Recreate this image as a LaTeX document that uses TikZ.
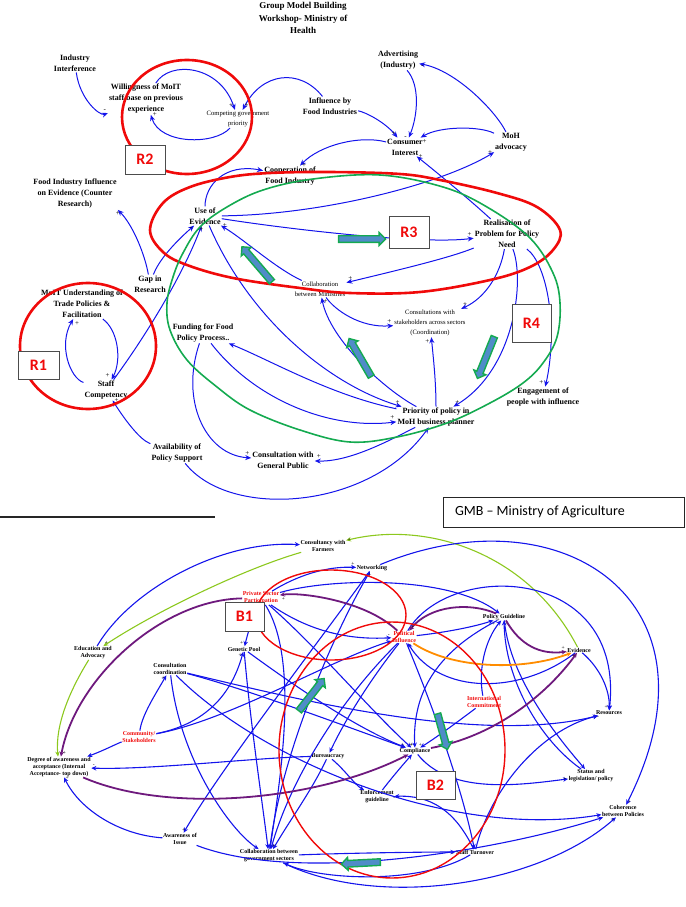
\documentclass[tikz,border=0pt]{standalone}
\usepackage{fontspec}
\setmainfont{Liberation Serif}
\newfontfamily\calfont{Carlito}
\usetikzlibrary{arrows.meta,shapes.arrows}
\definecolor{linkblue}{RGB}{20,20,235}
\definecolor{loopred}{RGB}{240,10,10}
\definecolor{loopgreen}{RGB}{20,170,80}
\definecolor{fatblue}{RGB}{80,140,200}
\definecolor{gmbpurple}{RGB}{110,25,125}
\definecolor{gmblime}{RGB}{140,200,30}
\definecolor{gmborange}{RGB}{255,140,0}
\begin{document}
\begin{tikzpicture}[x=1pt, y=-1pt, var/.style={align=center, inner sep=1pt, font=\bfseries\fontsize{8}{11}\selectfont}, svar/.style={align=center, inner sep=1pt, font=\fontsize{6.6}{10}\selectfont}, gvar/.style={align=center, inner sep=0.5pt, font=\bfseries\fontsize{6}{7}\selectfont, text=#1}, gvar/.default=black, loopbox/.style={draw=black!70, fill=white, line width=0.8pt, minimum width=40pt, minimum height=#1, inner sep=0pt, font=\calfont\bfseries\fontsize{16}{16}\selectfont, text=loopred}, loopbox/.default=30pt, link/.style={-{Stealth[length=6pt,width=5pt]}, draw=linkblue, line width=1pt}, glink/.style={-{Stealth[length=5pt,width=4.5pt]}, draw=#1, line width=1.1pt}, glink/.default=linkblue, sign/.style={pos=1, inner sep=1.5pt, font=\fontsize{7}{7}\selectfont, #1}, sign/.default=above, gsign/.style={pos=1, inner sep=1pt, font=\fontsize{5.5}{5.5}\selectfont, #1}, gsign/.default=above, redloop/.style={draw=loopred, line width=#1}, redloop/.default=2.6pt, greenloop/.style={draw=loopgreen, line width=1.6pt}, fat/.style={single arrow, draw=loopgreen, fill=fatblue, line width=1.4pt, inner sep=2.6pt, single arrow head extend=3.2pt, minimum height=#1}]

\useasboundingbox (0,0) rectangle (685,907);

\node [var, font=\bfseries\fontsize{9}{12.5}\selectfont] (title) at (303,18) {Group Model Building\\Workshop- Ministry of\\Health};
\node [var] (indint) at (75,63) {Industry\\Interference};
\node [var] (will) at (146,99) {Willingness of MoIT\\staff base on previous\\experience};
\node [svar] (comp) at (238,119) {Competing government\\priority};
\node [var] (inffood) at (330,106) {Influence by\\Food Industries};
\node [var] (advert) at (398,60) {Advertising\\(Industry)};
\node [var] (consint) at (405,147) {Consumer\\Interest};
\node [var] (mohadv) at (511,142) {MoH\\advocacy};
\node [var] (coop) at (290,176) {Cooperation of\\Food Industry};
\node [var] (fiinf) at (75,194) {Food Industry Influence\\on Evidence (Counter\\Research)};
\node [var] (useev) at (205,216) {Use of\\Evidence};
\node [var] (real) at (507,234) {Realisation of\\Problem for Policy\\Need};
\node [var] (gap) at (150,284) {Gap in\\Research};
\node [svar] (collab) at (320,289) {Collaboration\\between Ministries};
\node [var] (moit) at (82,304) {MoIT Understanding of\\Trade Policies \&\\Facilitation};
\node [svar] (consstake) at (430,323) {Consultations with\\stakeholders across sectors\\(Coordination)};
\node [var] (fund) at (203,333) {Funding for Food\\Policy Process.{}.};
\node [var] (staff) at (106,390) {Staff\\Competency};
\node [var] (engage) at (543,397) {Engagement of\\people with influence};
\node [var] (prio) at (436,417) {Priority of policy in\\MoH business planner};
\node [var] (avail) at (177,453) {Availability of\\Policy Support};
\node [var] (consgp) at (283,460) {Consultation with\\General Public};

\draw[link] (indint) .. controls (80,100) and (100,116) .. (will) node[sign={above left}] {-};
\draw[link] (will) .. controls (170,60) and (220,65) .. (comp) node[sign={above left}] {+};
\draw[link] (comp) .. controls (215,145) and (160,145) .. (will) node[sign=right] {+};
\draw[link] (inffood) .. controls (300,68) and (262,72) .. (comp) node[sign={above right}] {+};
\draw[link] (inffood) .. controls (365,112) and (385,122) .. (consint) node[sign={above left}] {+};
\draw[link] (advert) .. controls (420,85) and (418,115) .. (consint) node[sign=left] {-};
\draw[link] (mohadv) .. controls (495,110) and (455,70) .. (advert) node[sign={below right}] {-};
\draw[link] (mohadv) .. controls (480,126) and (440,126) .. (consint) node[sign={below right}] {+};
\draw[link] (consint) .. controls (360,135) and (320,145) .. (coop) node[sign=right] {+};
\draw[link] (useev) .. controls (205,185) and (225,163) .. (coop) node[sign={below left}] {+};
\draw[link] (useev) .. controls (320,215) and (440,185) .. (mohadv) node[sign=left] {+};
\draw[link] (real) .. controls (470,200) and (440,175) .. (consint) node[sign=right] {+};
\draw[link] (useev) .. controls (280,228) and (420,245) .. (real) node[sign={above left}] {+};
\draw[link] (real) .. controls (450,258) and (390,272) .. (collab) node[sign={above right}] {+};
\draw[link] (real) .. controls (500,275) and (485,298) .. (consstake) node[sign={above right}] {+};
\draw[link] (real) .. controls (525,280) and (515,370) .. (prio) node[sign={above right}] {+};
\draw[link] (real) .. controls (548,265) and (558,330) .. (engage) node[sign={above left}] {+};
\draw[link] (collab) .. controls (275,268) and (245,240) .. (useev) node[sign=right] {+};
\draw[link] (collab) .. controls (335,310) and (360,328) .. (consstake) node[sign={above left}] {+};
\draw[link] (prio) .. controls (385,390) and (330,340) .. (collab) node[sign={below right}] {+};
\draw[link] (prio) .. controls (436,380) and (433,355) .. (consstake) node[sign={below left}] {+};
\draw[link] (useev) .. controls (250,320) and (330,385) .. (prio) node[sign={above left}] {+};
\draw[link] (fund) .. controls (255,400) and (330,430) .. (prio) node[sign={above left}] {+};
\draw[link] (prio) .. controls (330,395) and (270,360) .. (fund);
\draw[link] (fund) .. controls (180,400) and (205,455) .. (consgp) node[sign={above left}] {+};
\draw[link] (prio) .. controls (390,440) and (350,462) .. (consgp) node[sign={above right}] {+};
\draw[link] (avail) .. controls (230,520) and (370,510) .. (prio);
\draw[link] (gap) .. controls (158,262) and (172,245) .. (useev) node[sign={below left}] {-};
\draw[link] (gap) .. controls (145,255) and (133,225) .. (fiinf.south east) node[sign=below] {+};
\draw[link] (staff) .. controls (150,330) and (185,270) .. (useev) node[sign={below}] {+};
\draw[link] (moit) .. controls (118,330) and (122,360) .. (staff) node[sign={above left}] {+};
\draw[link] (staff) .. controls (70,378) and (58,345) .. (moit) node[sign={below right}] {+};
\draw[link] (avail) .. controls (140,440) and (125,420) .. (staff) node[sign=right] {+};

\draw[redloop] (187,117) ellipse [x radius=65, y radius=57];
\draw[redloop] (88,346) ellipse [x radius=68, y radius=63];
\draw[redloop] plot[smooth cycle, tension=0.6] coordinates {(150,230) (163,203) (190,187) (230,177) (270,173) (330,172) (400,174) (440,180) (497,193) (537,207) (560,230) (553,250) (530,267) (490,280) (420,292) (350,293) (300,288) (233,278) (187,265) (163,252)};
\draw[greenloop] plot[smooth cycle, tension=0.6] coordinates {(167,303) (173,277) (183,253) (200,227) (227,207) (263,190) (313,179) (380,175) (443,187) (487,207) (530,238) (553,273) (560,303) (557,337) (543,363) (523,383) (490,403) (447,423) (397,437) (350,442) (300,430) (250,410) (217,387) (187,360) (170,330)};

\node [fat=47pt] (fa1) at (360.5,239) {};
\node [fat=46pt, rotate=130.6] (fa2) at (258,265.5) {};
\node [fat=44pt, rotate=120.1] (fa3) at (361,359) {};
\node [fat=45pt, rotate=-112] (fa4) at (486.5,356) {};

\node [loopbox=29pt] (R2) at (145,159.5) {R2};
\node [loopbox=32pt] (R3) at (409,232) {R3};
\node [loopbox=38pt, minimum width=39pt] (R4) at (531.5,323) {R4};
\node [loopbox=28pt, minimum width=41pt] (R1) at (38.5,365) {R1};

\coordinate (sepl) at (0,517);
\coordinate (sepr) at (215,517);
\draw[line width=1.6pt, black!85] (sepl) -- (sepr);
\node [draw=black!85, line width=0.8pt, minimum height=30pt, text width=217pt, inner xsep=12pt, align=flush left, font=\calfont\fontsize{14}{15}\selectfont] (gmbtitle) at (563.5,512) {GMB – Ministry of Agriculture};

\node [gvar] (cfarm) at (323,546) {Consultancy with\\Farmers};
\node [gvar] (netw) at (372,568) {Networking};
\node [gvar=loopred] (psec) at (261,598) {Private Sector\\Participation};
\node [gvar=loopred] (polinf) at (404,637) {Political\\Influence};
\node [gvar] (polguide) at (504,617) {Policy Guideline};
\node [gvar] (evid) at (579,650) {Evidence};
\node [gvar] (edadv) at (93,653) {Education and\\Advocacy};
\node [gvar] (genpool) at (244,649) {Genetic Pool};
\node [gvar] (conscoord) at (170,669) {Consultation\\coordination};
\node [gvar=loopred] (intcom) at (484,702) {International\\Commitment};
\node [gvar] (resources) at (609,713) {Resources};
\node [gvar=loopred] (commst) at (139,737) {Community/\\Stakeholders};
\node [gvar] (degree) at (59,767) {Degree of awareness and\\acceptance (Internal\\Acceptance- top down)};
\node [gvar] (bureau) at (328,756) {Bureaucracy};
\node [gvar] (compl) at (415,751) {Compliance};
\node [gvar] (status) at (591,776) {Status and\\legislation/ policy};
\node [gvar] (enforce) at (377,797) {Enforcement\\guideline};
\node [gvar] (coherence) at (623,811) {Coherence\\between Policies};
\node [gvar] (awaren) at (180,839) {Awareness of\\Issue};
\node [gvar] (collabgov) at (269,856) {Collaboration between\\government sectors};
\node [gvar] (turnover) at (475,852) {Staff Turnover};

\draw[glink=gmblime] (evid) .. controls (530,555) and (430,520) .. (cfarm) node[gsign=right] {+};
\draw[glink=gmblime] (cfarm) .. controls (240,570) and (150,615) .. (edadv) node[gsign={above right}] {+};
\draw[glink=gmblime] (edadv) .. controls (70,690) and (55,725) .. (degree);
\draw[glink] (edadv) .. controls (130,590) and (220,540) .. (cfarm);
\draw[glink] (netw) .. controls (560,490) and (730,600) .. (coherence) node[gsign={above right}] {+};
\draw[glink] (polinf) .. controls (450,560) and (625,565) .. (resources) node[gsign={above left}] {+};
\draw[glink] (evid) .. controls (600,668) and (610,690) .. (resources);
\draw[glink] (evid) .. controls (520,695) and (440,695) .. (polinf) node[gsign={below right}] {-};
\draw[glink] (polinf) .. controls (440,633) and (470,628) .. (polguide) node[gsign=below] {+};
\draw[glink] (psec) .. controls (310,632) and (350,640) .. (polinf) node[gsign={above left}] {-};
\draw[glink] (psec) .. controls (330,578) and (450,575) .. (polguide);
\draw[glink] (psec) .. controls (290,580) and (320,566) .. (netw) node[gsign={above left}] {+};
\draw[glink] (netw) .. controls (320,640) and (220,770) .. (awaren) node[gsign=above] {+};
\draw[glink] (collabgov) .. controls (280,760) and (330,640) .. (netw) node[gsign=below] {+};
\draw[glink] (commst) .. controls (230,720) and (330,660) .. (polinf);
\draw[glink] (awaren) .. controls (120,835) and (80,810) .. (degree) node[gsign=right] {+};
\draw[glink] (bureau) .. controls (250,758) and (150,770) .. (degree) node[gsign={above right}] {-};
\draw[glink] (commst) .. controls (118,743) and (105,750) .. (degree);
\draw[glink] (commst) .. controls (142,715) and (155,695) .. (conscoord) node[gsign={below left}] {+};
\draw[glink] (commst) .. controls (200,725) and (230,700) .. (genpool) node[gsign={below left}] {+};
\draw[glink] (psec) .. controls (252,620) and (248,632) .. (genpool) node[gsign={above left}] {+};
\draw[glink] (genpool) .. controls (300,690) and (360,730) .. (compl) node[gsign={above left}] {+};
\draw[glink] (conscoord) .. controls (250,690) and (350,728) .. (compl);
\draw[glink] (conscoord) .. controls (300,700) and (480,745) .. (resources) node[gsign=left] {+};
\draw[glink] (turnover) .. controls (490,790) and (540,730) .. (resources) node[gsign=below] {-};
\draw[glink] (polinf) .. controls (430,700) and (460,780) .. (turnover);
\draw[glink] (turnover) .. controls (455,810) and (430,795) .. (enforce) node[gsign=below] {-};
\draw[glink] (enforce) .. controls (390,780) and (400,768) .. (compl);
\draw[glink] (bureau) .. controls (345,770) and (355,785) .. (enforce);
\draw[glink] (bureau) .. controls (312,790) and (290,820) .. (collabgov);
\draw[glink] (polinf) .. controls (370,680) and (345,720) .. (bureau);
\draw[glink] (intcom) .. controls (460,720) and (440,735) .. (compl) node[gsign=above] {+};
\draw[glink] (intcom) .. controls (478,670) and (485,640) .. (polguide) node[gsign=left] {+};
\draw[glink] (polguide) .. controls (440,650) and (412,690) .. (compl) node[gsign={above left}] {+};
\draw[glink] (polguide) .. controls (510,680) and (560,740) .. (status);
\draw[glink] (status) .. controls (540,740) and (505,680) .. (polguide) node[gsign={below right}] {+};
\draw[glink] (compl) .. controls (450,795) and (520,785) .. (status) node[gsign=left] {+};
\draw[glink] (collabgov) .. controls (350,853) and (420,852) .. (turnover) node[gsign={below left}] {-};
\draw[glink] (turnover) .. controls (420,885) and (320,880) .. (collabgov);
\draw[glink] (collabgov) .. controls (380,910) and (540,885) .. (coherence) node[gsign={below left}] {+};
\draw[glink] (awaren) .. controls (300,885) and (500,850) .. (coherence);
\draw[glink] (conscoord) .. controls (260,760) and (450,840) .. (coherence);
\draw[glink] (conscoord) .. controls (180,760) and (230,830) .. (collabgov);
\draw[glink] (psec) .. controls (300,660) and (280,780) .. (collabgov);
\draw[glink] (psec) .. controls (320,650) and (370,710) .. (compl) node[gsign=above] {+};
\draw[glink] (genpool) .. controls (250,720) and (262,800) .. (collabgov);
\draw[glink] (polinf) .. controls (340,700) and (290,780) .. (collabgov) node[gsign={above right}] {+};
\draw[glink=gmbpurple, line width=1.8pt] (polinf) .. controls (365,600) and (300,592) .. (psec) node[gsign={below right}] {+};
\draw[glink=gmbpurple, line width=1.8pt] (psec) .. controls (160,600) and (75,680) .. (degree) node[gsign={above right}] {+};
\draw[glink=gmbpurple, line width=1.8pt] (polguide) .. controls (470,602) and (430,605) .. (polinf) node[gsign={above right}] {+};
\draw[glink=gmbpurple, line width=1.8pt] (polguide) .. controls (520,645) and (540,655) .. (evid) node[gsign={above left}] {+};
\draw[glink=gmbpurple, line width=1.8pt] (degree) .. controls (170,815) and (320,800) .. (compl);
\draw[glink=gmbpurple, line width=1.8pt] (compl) .. controls (500,735) and (550,690) .. (evid) node[gsign={below left}] {+};
\draw[glink=gmborange, line width=1.8pt] (polinf) .. controls (450,668) and (520,672) .. (evid);

\draw[redloop=1.4pt] (331,615) ellipse [x radius=75, y radius=45];
\draw[redloop=1.4pt] (392,750) ellipse [x radius=113, y radius=128];

\node [fat=41pt, rotate=52] (fa5) at (310.5,696) {};
\node [fat=37pt, rotate=-74.5] (fa6) at (442,730) {};
\node [fat=39pt, rotate=183] (fa7) at (362.5,863) {};

\node [loopbox=29pt, minimum width=39pt] (B1) at (244.5,616.5) {B1};
\node [loopbox=28pt, minimum width=39pt] (B2) at (435.5,785) {B2};

\end{tikzpicture}
\end{document}
